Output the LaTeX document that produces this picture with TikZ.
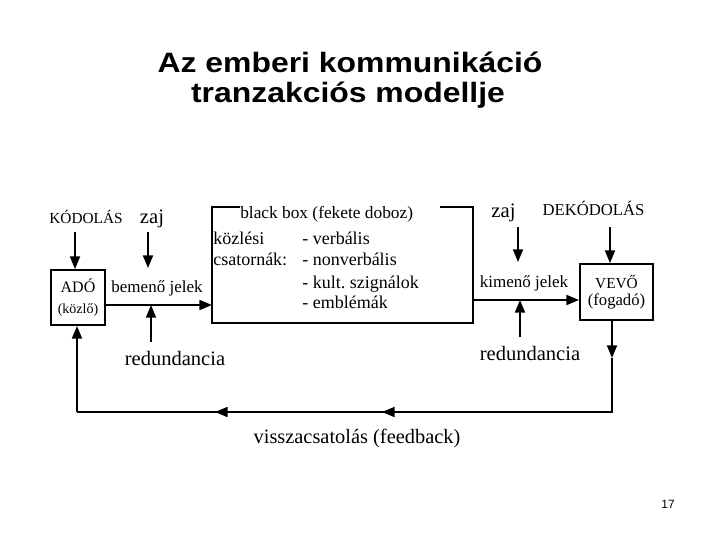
\documentclass[tikz,border=0pt]{standalone}
\usepackage{fontspec}
\setmainfont{Liberation Serif}
\newfontfamily\titlefont{Liberation Sans}
\usetikzlibrary{arrows.meta,calc}
\newcommand\myfs[1]{\fontsize{#1}{#1}\selectfont}
\begin{document}
\begin{tikzpicture}[x=0.75pt,y=-0.75pt,
  lw/.style={line width=1.4pt},
  arr/.style={lw,-{Triangle[length=9.5pt,width=7.5pt]}},
  lab/.style={inner sep=0pt,anchor=base},
  labw/.style={inner sep=0pt,anchor=base west},
  boxnode/.style={draw,lw,inner sep=0pt,align=center},
  ttl/.style={lab,font=\titlefont\bfseries\myfs{21pt}}]
\useasboundingbox (0,0) rectangle (720,540);

% title
\node[ttl] (t1) at (350,72.5) {\scalebox{1.14}[1]{Az emberi kommunikáció}};
\node[ttl] (t2) at (348,102) {\scalebox{1.14}[1]{tranzakciós modellje}};

% labels
\node[lab,font=\myfs{11.5pt}] (kod) at (86,223) {KÓDOLÁS};
\node[lab,font=\myfs{15.5pt}] (zaj1) at (152,223) {zaj};
\node[lab,font=\myfs{12.75pt}] (bem) at (157,292) {bemenő jelek};
\node[lab,font=\myfs{15.5pt}] (zaj2) at (503.5,217) {zaj};
\node[lab,font=\myfs{12.5pt}] (dek) at (593.5,215) {DEKÓDOLÁS};
\node[lab,font=\myfs{12.75pt}] (kim) at (524,287) {kimenő jelek};
\node[lab,font=\myfs{15.4pt}] (red1) at (175,365) {redundancia};
\node[lab,font=\myfs{15.4pt}] (red2) at (530,360) {redundancia};
\node[lab,font=\myfs{15.3pt}] (viss) at (357,443) {visszacsatolás (feedback)};
\node[lab,font=\titlefont\myfs{9pt}] (pg) at (668,508) {17};

% boxes
\node[boxnode,minimum width=40.5pt,minimum height=41.25pt,
  font=\fontsize{12pt}{15.75pt}\selectfont] (ado) at (78,297.5)
  {ADÓ\\\fontsize{10.5pt}{15.75pt}\selectfont(közlő)};
\node[boxnode,minimum width=54.75pt,minimum height=42pt,
  font=\fontsize{11.5pt}{12.75pt}\selectfont] (vevo) at (616.5,292)
  {VEVŐ\\\fontsize{12.5pt}{12.75pt}\selectfont(fogadó)};

% black box
\node[inner sep=0pt,minimum width=195.75pt,minimum height=87pt] (bb) at (342.5,265) {};
\draw[lw] ($(bb.north west)+(28,0)$) -- (bb.north west) -- (bb.south west)
  -- (bb.south east) -- (bb.north east) -- ++(-33,0);
\node[labw,font=\myfs{13pt}] (bbt) at (240,218) {black box (fekete doboz)};
\node[labw,font=\myfs{13.5pt}] (kozl) at (213,244) {közlési};
\node[labw,font=\myfs{13.5pt}] (csat) at (213,265) {csatornák:};
\node[labw,font=\myfs{13.5pt}] (c1) at (302,244) {- verbális};
\node[labw,font=\myfs{13.5pt}] (c2) at (302,265) {- nonverbális};
\node[labw,font=\myfs{13.5pt}] (c3) at (302,288) {- kult.\ szignálok};
\node[labw,font=\myfs{13.5pt}] (c4) at (302,308) {- emblémák};

% connectors
\coordinate (k1) at (75,232);
\draw[arr] (k1) -- (k1 |- ado.north);
\coordinate (z1) at (148,232);
\coordinate (z1e) at (148,268);
\draw[arr] (z1) -- (z1e);
\coordinate (in1) at (212,305);
\draw[arr] (ado.east |- in1) -- (in1);
\coordinate (r1) at (151,342);
\draw[arr] (r1) -- (r1 |- in1);
\coordinate (out1) at (473,300);
\draw[arr] (out1) -- (out1 -| vevo.west);
\coordinate (z2) at (518,227);
\coordinate (z2e) at (518,262);
\draw[arr] (z2) -- (z2e);
\coordinate (d1) at (610,227);
\draw[arr] (d1) -- (d1 |- vevo.north);
\coordinate (r2) at (520,337);
\draw[arr] (r2) -- (r2 |- out1);

% feedback
\coordinate (f1) at (612,358);
\coordinate (f2) at (612,412);
\coordinate (f3) at (77,412);
\coordinate (m1) at (382,412);
\coordinate (m2) at (215,412);
\draw[arr] (f1 |- vevo.south) -- (f1);
\draw[lw] (f1) -- (f2) -- (f3);
\draw[arr] (f2) -- (m1);
\draw[arr] (m1) -- (m2);
\draw[arr] (f3) -- (f3 |- ado.south);
\end{tikzpicture}
\end{document}
